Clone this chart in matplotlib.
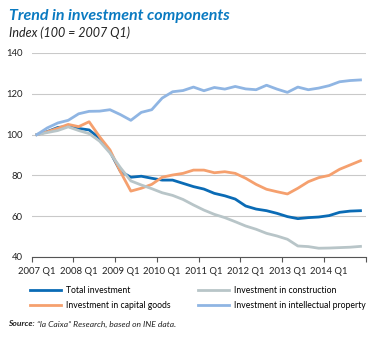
import numpy as np
import matplotlib
matplotlib.use("Agg")
import matplotlib.pyplot as plt

plt.rcParams["font.family"] = ["Lato", "DejaVu Sans"]

# quarterly index, 2007 Q1 = 100 (2007 Q1 .. 2014 Q4)
total = [100, 101.5, 103.5, 104, 103, 102.3, 98.2, 91.6, 82, 79.1, 79.6, 78.6,
         77.7, 77.7, 76.1, 74.5, 73.3, 71.2, 70, 68.4, 65, 63.5, 62.7, 61.4,
         59.8, 58.8, 59.3, 59.6, 60.3, 61.9, 62.5, 62.7]
construction = [100, 101, 102, 103.8, 102, 100.5, 96.8, 91, 83.8, 77.3, 75.3, 73.5,
                71.5, 70.2, 68.2, 65.5, 63, 60.9, 59.3, 57.3, 55.2, 53.6, 51.6, 50.3,
                48.7, 45.4, 45.1, 44.3, 44.4, 44.6, 44.8, 45.2]
capital_goods = [100, 101.4, 103.1, 105, 103.9, 106.3, 99, 92.5, 81.8, 72.3, 73.7, 75.6,
                 79.1, 80.2, 81, 82.6, 82.6, 81.3, 81.8, 81, 78.6, 75.6, 73.2, 72,
                 70.9, 73.7, 76.9, 78.9, 80, 83, 85.1, 87.2]
intellectual = [100, 103.3, 105.7, 107, 110.2, 111.4, 111.5, 112.2, 109.8, 107, 110.9, 112.2,
                117.9, 121, 121.6, 123.3, 121.5, 123.1, 122.3, 123.6, 122.4, 122, 124.2, 122.3,
                120.7, 123.3, 122, 122.8, 124, 125.9, 126.5, 126.8]
years = [str(y) + " Q1" for y in range(2007, 2015)]

x = np.arange(len(total))

fig = plt.figure(figsize=(3.76, 3.38), dpi=100)
ax = fig.add_axes([31.7 / 376, 1 - 257 / 338, 334 / 376, 204 / 338])

c_total = "#0a6bb5"
c_cons = "#b8c5c8"
c_cap = "#f5a06e"
c_ip = "#8fb5e3"

l1, = ax.plot(x, total, color=c_total, lw=2, label="Total investment")
l2, = ax.plot(x, capital_goods, color=c_cap, lw=2, label="Investment in capital goods")
l3, = ax.plot(x, construction, color=c_cons, lw=2, label="Investment in construction")
l4, = ax.plot(x, intellectual, color=c_ip, lw=2, label="Investment in intellectual property")

ax.set_xlim(-0.5, len(total) - 0.5)
ax.set_ylim(40, 140)
ax.set_yticks([40, 60, 80, 100, 120, 140])
ax.grid(axis="y", color="#c9c9c9", lw=0.8)
ax.set_axisbelow(True)
for s in ["top", "right", "left"]:
    ax.spines[s].set_visible(False)
ax.spines["bottom"].set_color("#555555")
ax.spines["bottom"].set_linewidth(0.8)

ax.set_xticks(np.arange(-0.5, len(total), 4))
ax.set_xticks(np.arange(0, len(total), 4), minor=True)
ax.set_xticklabels([])
ax.set_xticklabels(years, minor=True)
ax.tick_params(axis="x", which="major", length=3.5, width=0.8, color="#555555")
ax.tick_params(axis="x", which="minor", length=0, pad=7, labelsize=6.8, labelcolor="#222222")
ax.tick_params(axis="y", length=0, labelsize=6.8, labelcolor="#222222", pad=6.3)

fig.text(9 / 376, 1 - 16 / 338, "Trend in investment components", color="#0a7ac1",
         fontsize=11.5, fontweight="bold", fontstyle="italic", va="center")
fig.text(9 / 376, 1 - 33 / 338, "Index (100 = 2007 Q1)", color="#222222",
         fontsize=9, fontstyle="italic", va="center")

# two single-column legends so each column sits at its own x
leg_kw = dict(loc="upper left", frameon=False, fontsize=6.2, handlelength=3.6,
              handletextpad=0.6, labelspacing=0.65, borderpad=0, borderaxespad=0)
fig.legend(handles=[l1, l2], bbox_to_anchor=(30 / 376, 1 - 286 / 338), **leg_kw)
fig.legend(handles=[l3, l4], bbox_to_anchor=(198 / 376, 1 - 286 / 338), **leg_kw)

src = fig.text(8 / 376, 1 - 324 / 338, "Source:", fontsize=6.1, fontweight="bold",
               fontstyle="italic", va="center", color="#222222")
fig.canvas.draw()
bb = src.get_window_extent()
fig.text((bb.x1 + 2) / 376, 1 - 324 / 338, "\u201cla Caixa\u201d Research, based on INE data.",
         fontsize=6.1, fontstyle="italic", va="center", color="#222222")

fig.savefig("out.png", dpi=100)
